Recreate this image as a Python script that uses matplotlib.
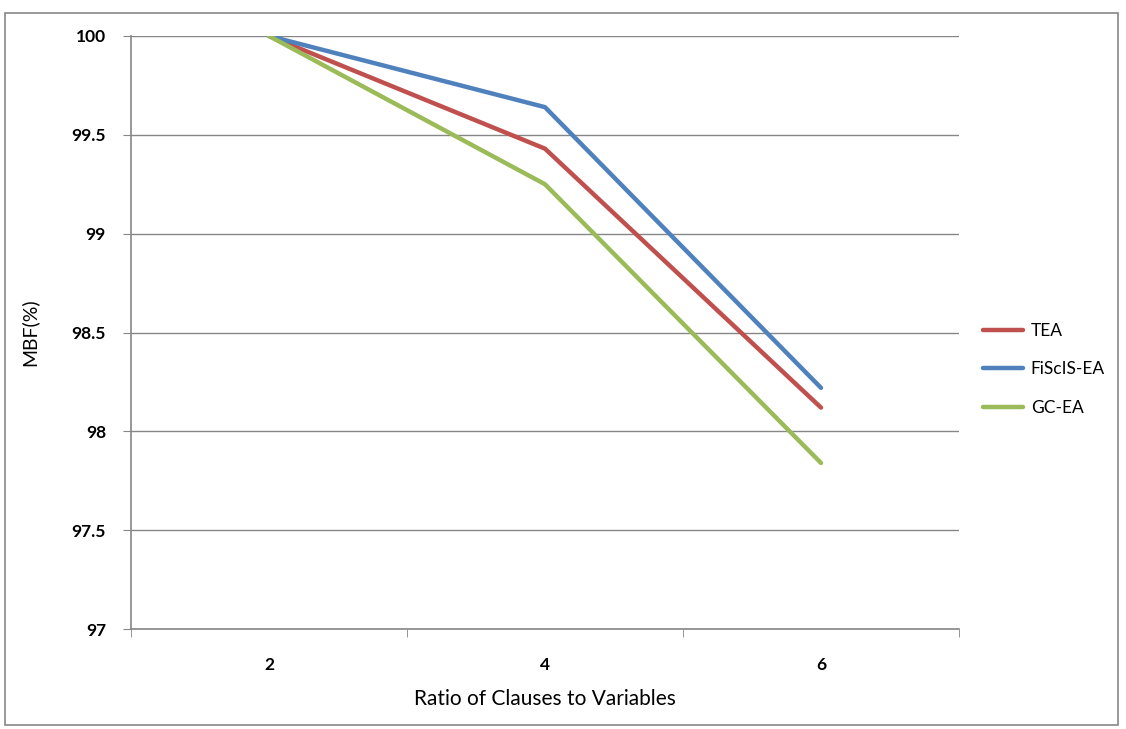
import numpy as np
import matplotlib.pyplot as plt
from matplotlib.patches import Rectangle

plt.rcParams['font.family'] = ['Lato', 'DejaVu Sans']

ratios = ['2', '4', '6']
tea = [100.0, 99.43, 98.12]
fiscis = [100.0, 99.64, 98.22]
gcea = [100.0, 99.25, 97.84]

fig = plt.figure(figsize=(11.26, 7.29), dpi=100)
ax = fig.add_axes([131/1126, 1-629/729, (959-131)/1126, (629-36)/729])

# outer chart border
fig.patches.append(Rectangle((5/1126, 1-725/729), 1113/1126, 712/729,
                             transform=fig.transFigure, fill=False,
                             edgecolor='#878787', lw=1.2))

x = np.arange(len(ratios))
ax.plot(x, tea, color='#C0504D', lw=3.2, label='TEA', solid_capstyle='round')
ax.plot(x, fiscis, color='#4F81BD', lw=3.2, label='FiScIS-EA', solid_capstyle='round')
ax.plot(x, gcea, color='#9BBB59', lw=3.2, label='GC-EA', solid_capstyle='round')

ax.set_xlim(-0.5, 2.5)
ax.set_ylim(97, 100)
ax.set_yticks(np.arange(97, 100.01, 0.5))
ax.set_yticklabels(['97', '97.5', '98', '98.5', '99', '99.5', '100'])
ax.yaxis.grid(True, color='#868686', lw=1)
ax.set_axisbelow(True)

ax.set_xticks(x)
ax.set_xticklabels(ratios)
ax.set_xticks(np.arange(-0.5, 2.6, 1), minor=True)
ax.tick_params(axis='x', which='major', length=0, pad=20)
ax.tick_params(axis='x', which='minor', length=6, color='#868686', direction='out')
ax.tick_params(axis='y', length=6, color='#868686', direction='out', pad=12)
for lab in ax.get_xticklabels() + ax.get_yticklabels():
    lab.set_fontweight('bold')
    lab.set_fontsize(12.5)

for s in ['top', 'right']:
    ax.spines[s].set_visible(False)
for s in ['left', 'bottom']:
    ax.spines[s].set_color('#868686')
    ax.spines[s].set_linewidth(1.2)

ax.set_xlabel('Ratio of Clauses to Variables', fontsize=15, labelpad=12)
ax.set_ylabel('MBF(%)', fontsize=14, labelpad=24)

ax.legend(loc='center left', bbox_to_anchor=(1.01, 0.438), frameon=False,
          fontsize=12.5, handlelength=2.3, labelspacing=1.3, handletextpad=0.45)

fig.savefig('out.png', dpi=100)
